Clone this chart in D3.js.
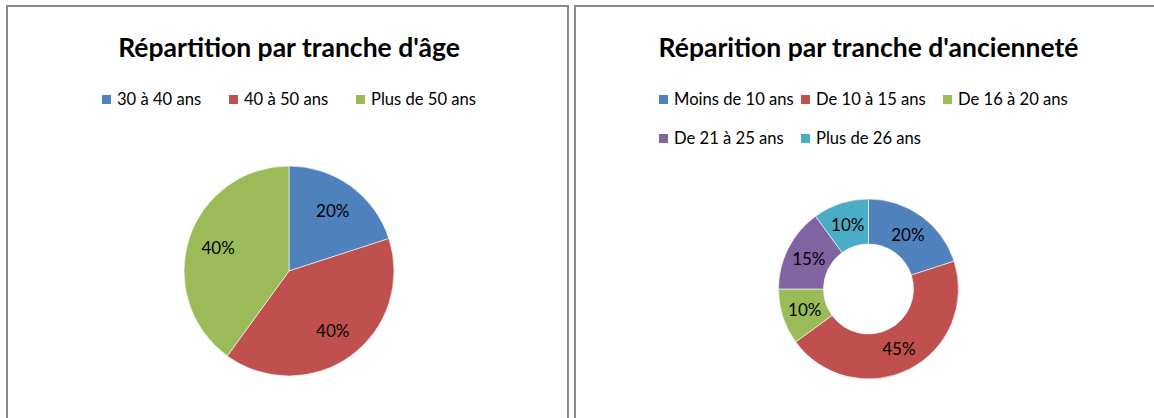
<!DOCTYPE html>
<html>
<head>
<meta charset="utf-8">
<script src="https://cdn.jsdelivr.net/npm/d3@7"></script>
<style>
  html, body { margin: 0; padding: 0; background: #fff; overflow: hidden; }
  svg { display: block; }
  text { font-family: Lato, "Noto Sans", sans-serif; fill: #000; }
</style>
</head>
<body>
<svg id="chart" width="1154" height="418"></svg>
<script>
// Age groups
const ageCategories = ["30 à 40 ans", "40 à 50 ans", "Plus de 50 ans"];
const ageValues = [20, 40, 40];

// Seniority groups
const seniorityCategories = ["Moins de 10 ans", "De 10 à 15 ans", "De 16 à 20 ans", "De 21 à 25 ans", "Plus de 26 ans"];
const seniorityValues = [20, 45, 10, 15, 10];

const titles = ["Répartition par tranche d'âge", "Réparition par tranche d'ancienneté"];

const palette = ["#4F81BD", "#C0504D", "#9BBB59", "#8064A2", "#4BACC6"];

const svg = d3.select("#chart");

// Chart frames (the right one runs past the window edge)
const frames = [
  { x: 7, y: 6, w: 561, h: 430 },
  { x: 575, y: 6, w: 590, h: 430 }
];
svg.selectAll("rect.frame").data(frames).join("rect")
  .attr("class", "frame")
  .attr("x", d => d.x).attr("y", d => d.y)
  .attr("width", d => d.w).attr("height", d => d.h)
  .attr("fill", "#fff").attr("stroke", "#8a8a8a").attr("stroke-width", 2);

function drawPanel(opts) {
  const g = svg.append("g");
  const color = d3.scaleOrdinal().domain(opts.categories).range(palette);

  // Title
  g.append("text")
    .attr("x", opts.cx).attr("y", 57)
    .attr("text-anchor", "middle")
    .attr("font-size", 26.5).attr("font-weight", "bold")
    .text(opts.title);

  // Legend: grid of equal-width columns
  const legend = g.append("g");
  const items = legend.selectAll("g").data(opts.categories).join("g");
  items.append("rect")
    .attr("width", 9).attr("height", 9)
    .attr("fill", d => color(d));
  items.append("text")
    .attr("x", 15).attr("y", 9.5)
    .attr("font-size", 16.6)
    .text(d => d);
  const maxW = d3.max(items.select("text").nodes(), n => n.getComputedTextLength());
  const colW = Math.round(maxW + 15 + 7);
  const nCols = Math.min(opts.cols, opts.categories.length);
  const totalW = nCols * colW - 7;
  const x0 = opts.cx - totalW / 2;
  items.attr("transform", (d, i) => {
    const c = i % nCols, r = Math.floor(i / nCols);
    return `translate(${x0 + c * colW},${95 + r * 39})`;
  });

  // Slices
  const pie = d3.pie().sort(null).value(d => d.v);
  const data = pie(opts.categories.map((c, i) => ({ c, v: opts.values[i] })));
  const arc = d3.arc().innerRadius(opts.inner).outerRadius(opts.outer);
  const labelR = opts.labelR;
  const labelArc = d3.arc().innerRadius(labelR).outerRadius(labelR);

  const pg = g.append("g").attr("transform", `translate(${opts.cx},${opts.cy})`);
  pg.selectAll("path").data(data).join("path")
    .attr("d", arc)
    .attr("fill", d => color(d.data.c))
    .attr("stroke", "#fff").attr("stroke-width", 0.6);

  pg.selectAll("text").data(data).join("text")
    .attr("transform", d => `translate(${labelArc.centroid(d)})`)
    .attr("text-anchor", "middle")
    .attr("dy", "0.36em")
    .attr("font-size", 17)
    .text(d => d3.format(".0%")(d.data.v / d3.sum(opts.values)));
}

drawPanel({
  title: titles[0], categories: ageCategories, values: ageValues,
  cx: 289, cy: 271, inner: 0, outer: 105, labelR: 74.5, cols: 3
});

drawPanel({
  title: titles[1], categories: seniorityCategories, values: seniorityValues,
  cx: 868.5, cy: 289, inner: 45, outer: 90, labelR: 67, cols: 3
});
</script>
</body>
</html>
